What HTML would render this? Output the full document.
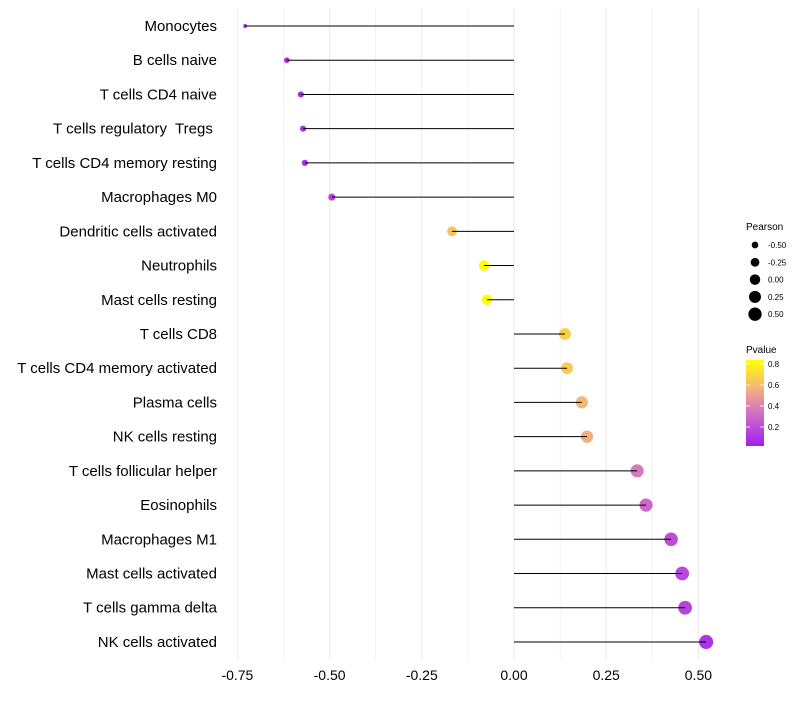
<!DOCTYPE html>
<html><head><meta charset="utf-8"><style>
body{margin:0;background:#fff;font-family:"Liberation Sans",sans-serif}
</style></head><body>
<svg id="chart" width="800" height="700" xmlns="http://www.w3.org/2000/svg"></svg>
<script>
const categories=["Monocytes","B cells naive","T cells CD4 naive","T cells regulatory  Tregs ","T cells CD4 memory resting","Macrophages M0","Dendritic cells activated","Neutrophils","Mast cells resting","T cells CD8","T cells CD4 memory activated","Plasma cells","NK cells resting","T cells follicular helper","Eosinophils","Macrophages M1","Mast cells activated","T cells gamma delta","NK cells activated"];
const pearson=[-0.729,-0.616,-0.578,-0.572,-0.567,-0.494,-0.168,-0.081,-0.073,0.138,0.144,0.184,0.198,0.334,0.358,0.426,0.456,0.464,0.521];
const pvalue=[0.05,0.06,0.07,0.07,0.07,0.14,0.62,0.84,0.83,0.66,0.65,0.58,0.55,0.36,0.29,0.19,0.16,0.15,0.08];
const xTicks=[-0.75,-0.5,-0.25,0,0.25,0.5];
const xTickLabels=["-0.75","-0.50","-0.25","0.00","0.25","0.50"];
const sizeLegend=[-0.5,-0.25,0,0.25,0.5];
const sizeLegendLabels=["-0.50","-0.25","0.00","0.25","0.50"];
const colorTicks=[0.8,0.6,0.4,0.2];

const svg=document.getElementById('chart');
const NS="http://www.w3.org/2000/svg";
function el(t,a){const e=document.createElementNS(NS,t);for(const k in a)e.setAttribute(k,a[k]);svg.appendChild(e);return e;}
const x=v=>514+v*368.8;
const y=i=>26+i*34.22;
const r=v=>Math.sqrt(Math.max(2,30.6+36.75*v));
function lerp(a,b,t){return a.map((c,i)=>Math.round(c+(b[i]-c)*t));}
function color(p){
  const t=Math.max(0,Math.min(1,p/0.84));
  const s=[[160,32,240],[214,120,190],[243,182,120],[255,255,0]];
  const stops=[0,0.42,0.68,1];
  let k=0;while(k<2&&t>stops[k+1])k++;
  const c=lerp(s[k],s[k+1],(t-stops[k])/(stops[k+1]-stops[k]));
  return `rgb(${c[0]},${c[1]},${c[2]})`;
}
// grid
for(let v=-0.75;v<=0.6;v+=0.125){
  const g=el('line',{x1:x(v),x2:x(v),y1:8,y2:660,stroke:'#ebebeb','stroke-width':Math.abs((v*4)%1)<0.01?1:0.6});
  
  
}
xTicks.forEach((v,i)=>{
  const t=el('text',{x:x(v),y:680,'text-anchor':'middle','font-size':14,fill:'#000'});
  t.textContent=xTickLabels[i];
  
  
});
categories.forEach((c,i)=>{
  const t=el('text',{x:217,y:y(i)+5,'text-anchor':'end','font-size':15,fill:'#000'});
  t.style.whiteSpace='pre';
  t.textContent=c;
  
  
  const d=el('circle',{cx:x(pearson[i]),cy:y(i),r:r(pearson[i]),fill:color(pvalue[i])});
  
  
  const ln=el('line',{x1:x(0),x2:x(pearson[i]),y1:y(i),y2:y(i),stroke:'#000','stroke-width':1});
  
  
});
// size legend
const lt=el('text',{x:746,y:230,'font-size':10,fill:'#000'});lt.textContent='Pearson';


sizeLegend.forEach((v,i)=>{
  const cy=245+i*17.3;
  const c=el('circle',{cx:755,cy:cy,r:r(v)*0.95,fill:'#000'});
  
  
  const t=el('text',{x:768,y:cy+3,'font-size':8,fill:'#000'});t.textContent=sizeLegendLabels[i];
  
  
});
// color legend
const ct=el('text',{x:746,y:353,'font-size':10,fill:'#000'});ct.textContent='Pvalue';


const defs=el('defs',{});
const lg=document.createElementNS(NS,'linearGradient');
lg.setAttribute('id','pg');lg.setAttribute('x1','0');lg.setAttribute('y1','1');lg.setAttribute('x2','0');lg.setAttribute('y2','0');
defs.appendChild(lg);
for(let k=0;k<=10;k++){const s=document.createElementNS(NS,'stop');s.setAttribute('offset',k/10);s.setAttribute('stop-color',color(0.84*k/10));lg.appendChild(s);}
const cy0=448,cs=105;
const bar=el('rect',{x:746,y:360,width:18,height:86,fill:'url(#pg)'});


colorTicks.forEach(v=>{
  const yy=cy0-v*cs;
  el('line',{x1:746,x2:750,y1:yy,y2:yy,stroke:'#fff','stroke-width':0.8});
  el('line',{x1:760,x2:764,y1:yy,y2:yy,stroke:'#fff','stroke-width':0.8});
  const t=el('text',{x:768,y:yy+3,'font-size':8,fill:'#000'});t.textContent=v.toFixed(1);
  
  
});
</script>
</body></html>
